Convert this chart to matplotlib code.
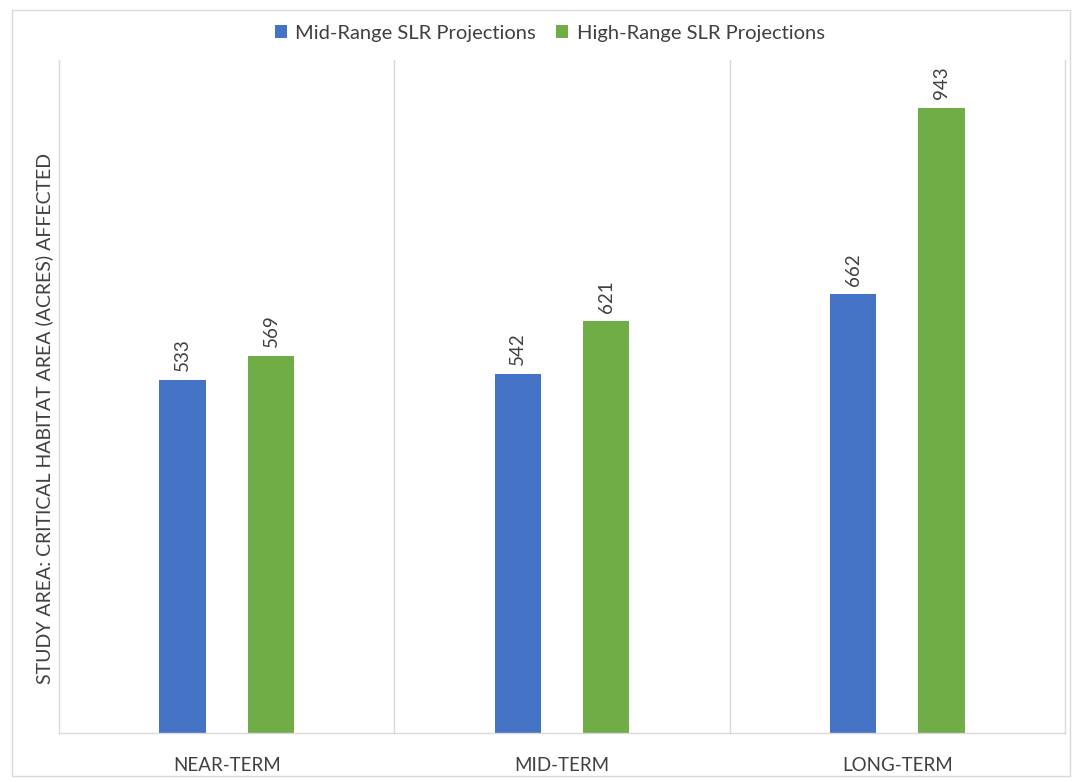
import numpy as np
import matplotlib.pyplot as plt
from matplotlib.patches import Rectangle

categories = ['NEAR-TERM', 'MID-TERM', 'LONG-TERM']
mid_range = [533, 542, 662]
high_range = [569, 621, 943]
series_names = ['Mid-Range SLR Projections', 'High-Range SLR Projections']
colors = ['#4472C4', '#70AD47']

plt.rcParams['font.family'] = ['Lato', 'DejaVu Sans']
text_color = '#404040'
grid_color = '#d9d9d9'

fig = plt.figure(figsize=(10.76, 7.82), dpi=100)
ax = fig.add_axes([59 / 1076, 1 - 733 / 782, 1006 / 1076, 673 / 782])

x = np.arange(len(categories))
w = 0.138
off = 0.132
b1 = ax.bar(x - off, mid_range, w, color=colors[0], label=series_names[0])
b2 = ax.bar(x + off, high_range, w, color=colors[1], label=series_names[1])

for bars, vals in [(b1, mid_range), (b2, high_range)]:
    for rect, v in zip(bars, vals):
        ax.annotate(str(v), (rect.get_x() + rect.get_width() / 2, v),
                    xytext=(0, 6), textcoords='offset points',
                    ha='center', va='bottom', rotation=90,
                    fontsize=13.5, color=text_color)

ax.set_xlim(-0.5, 2.5)
ax.set_ylim(0, 1015)
ax.set_xticks(x)
ax.set_xticklabels(categories, fontsize=13.5, color=text_color)
ax.tick_params(axis='x', length=0, pad=17)
ax.set_yticks([])

# category separators
for xv in [0.5, 1.5]:
    ax.axvline(xv, color=grid_color, lw=1, zorder=0)
for s in ['left', 'right', 'bottom']:
    ax.spines[s].set_color(grid_color)
    ax.spines[s].set_linewidth(1)
ax.spines['top'].set_visible(False)

ax.set_ylabel('STUDY AREA: CRITICAL HABITAT AREA (ACRES) AFFECTED',
              fontsize=14, color=text_color)
ax.yaxis.set_label_coords(-0.006, 0.468)

ax.legend(loc='center', bbox_to_anchor=(0.488, 1.0 + 27 / 673), ncol=2,
          frameon=False, fontsize=14.5, handlelength=0.6, handleheight=0.6,
          handletextpad=0.4, columnspacing=1.0, labelcolor=text_color)

# outer chart border
fig.patches.append(Rectangle((12 / 1076, 1 - 776 / 782), 1058 / 1076, 766 / 782,
                             transform=fig.transFigure, fill=False,
                             edgecolor=grid_color, lw=1))

fig.savefig('out.png', dpi=100)
